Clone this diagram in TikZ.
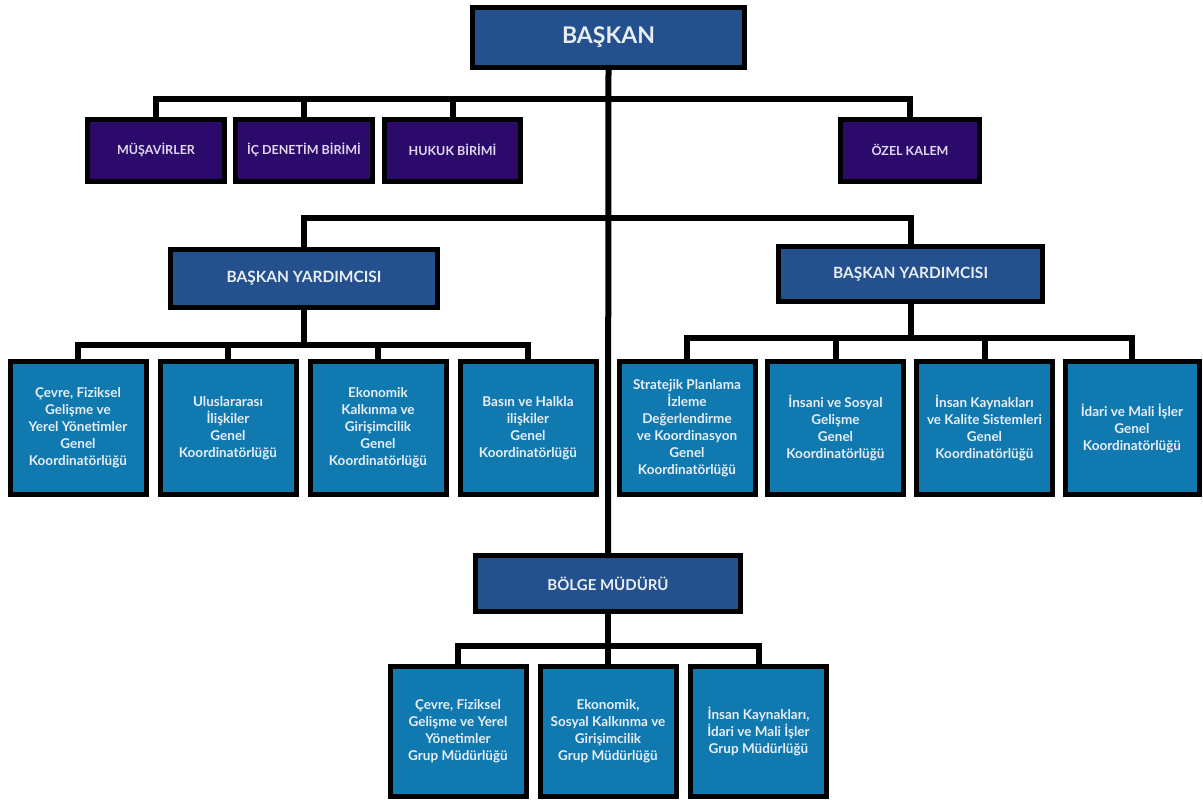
\documentclass[tikz,border=0pt]{standalone}
\usepackage{fontspec}
\setmainfont{Lato}
\definecolor{hdrblue}{RGB}{36,80,142}
\definecolor{purp}{RGB}{44,10,108}
\definecolor{cblue}{RGB}{16,121,176}
\definecolor{txtw}{RGB}{232,238,245}
\definecolor{txtp}{RGB}{225,215,240}
\begin{document}
\begin{tikzpicture}[x=1pt,y=-1pt,
  box/.style={draw=black,line width=5pt,inner sep=0pt,align=center,font=\bfseries},
  head/.style={box,fill=hdrblue,text=txtw},
  pbox/.style={box,fill=purp,text=txtp,font=\bfseries\fontsize{12.5}{15}\selectfont,minimum height=62pt},
  cbox/.style={box,fill=cblue,text=txtw,font=\bfseries\fontsize{13.5}{17}\selectfont,minimum width=136pt},
  conn/.style={draw=black,line width=6pt,line cap=rect,line join=miter}]
\useasboundingbox (0,0) rectangle (1203,800);
\fill[white] (0,0) rectangle (1203,800);
% bar levels
\coordinate (bar1) at (0,99.5);
\coordinate (bar2) at (0,218);
\coordinate (bar3) at (0,345);
\coordinate (bar4) at (0,338);
\coordinate (bar5) at (0,646);
% nodes
\node[head,minimum width=272pt,minimum height=60pt,font=\bfseries\fontsize{23}{27}\selectfont] (baskan) at (608.5,37.5) {BAŞKAN};
\node[pbox,minimum width=137pt] (mus) at (156,150) {MÜŞAVİRLER};
\node[pbox,minimum width=137pt] (ic) at (304,150) {İÇ DENETİM BİRİMİ};
\node[pbox,minimum width=136pt] (hukuk) at (452.5,150) {HUKUK BİRİMİ};
\node[pbox,minimum width=139pt] (ozel) at (910,150) {ÖZEL KALEM};
\node[head,minimum width=267pt,minimum height=58pt,font=\bfseries\fontsize{15.5}{18}\selectfont] (by1) at (304,278.5) {BAŞKAN YARDIMCISI};
\node[head,minimum width=264pt,minimum height=55pt,font=\bfseries\fontsize{15.5}{18}\selectfont] (by2) at (910.5,274) {BAŞKAN YARDIMCISI};
\node[cbox,minimum height=133pt] (c1) at (78,428) {Çevre, Fiziksel\\Gelişme ve\\Yerel Yönetimler\\Genel\\Koordinatörlüğü};
\node[cbox,minimum height=133pt] (c2) at (228,428) {Uluslararası\\İlişkiler\\Genel\\Koordinatörlüğü};
\node[cbox,minimum height=133pt] (c3) at (378,428) {Ekonomik\\Kalkınma ve\\Girişimcilik\\Genel\\Koordinatörlüğü};
\node[cbox,minimum height=133pt] (c4) at (528,428) {Basın ve Halkla\\ilişkiler\\Genel\\Koordinatörlüğü};
\node[cbox,minimum height=133pt] (c5) at (687,428) {Stratejik Planlama\\İzleme\\Değerlendirme\\ve Koordinasyon\\Genel\\Koordinatörlüğü};
\node[cbox,minimum height=133pt] (c6) at (835.5,428) {İnsani ve Sosyal\\Gelişme\\Genel\\Koordinatörlüğü};
\node[cbox,minimum height=133pt] (c7) at (984.5,428) {İnsan Kaynakları\\ve Kalite Sistemleri\\Genel\\Koordinatörlüğü};
\node[cbox,minimum height=133pt,minimum width=134pt] (c8) at (1132,428) {İdari ve Mali İşler\\Genel\\Koordinatörlüğü};
\node[head,minimum width=265pt,minimum height=56pt,font=\bfseries\fontsize{15}{18}\selectfont] (bolge) at (608,583.5) {BÖLGE MÜDÜRÜ};
\node[cbox,minimum height=130pt] (g1) at (458,731) {Çevre, Fiziksel\\Gelişme ve Yerel\\Yönetimler\\Grup Müdürlüğü};
\node[cbox,minimum height=130pt] (g2) at (608,731) {Ekonomik,\\Sosyal Kalkınma ve\\Girişimcilik\\Grup Müdürlüğü};
\node[cbox,minimum height=130pt] (g3) at (758.5,731) {İnsan Kaynakları,\\İdari ve Mali İşler\\Grup Müdürlüğü};
% connectors
\draw[conn] (baskan.south) -- (bolge.north);
\draw[conn] (mus.north) -- (mus.north |- bar1) -- (ozel.north |- bar1) -- (ozel.north);
\draw[conn] (ic.north) -- (ic.north |- bar1);
\draw[conn] (hukuk.north) -- (hukuk.north |- bar1);
\draw[conn] (by1.north) -- (by1.north |- bar2) -- (by2.north |- bar2) -- (by2.north);
\draw[conn] (by1.south) -- (by1.south |- bar3);
\draw[conn] (c1.north) -- (c1.north |- bar3) -- (c4.north |- bar3) -- (c4.north);
\draw[conn] (c2.north) -- (c2.north |- bar3);
\draw[conn] (c3.north) -- (c3.north |- bar3);
\draw[conn] (by2.south) -- (by2.south |- bar4);
\draw[conn] (c5.north) -- (c5.north |- bar4) -- (c8.north |- bar4) -- (c8.north);
\draw[conn] (c6.north) -- (c6.north |- bar4);
\draw[conn] (c7.north) -- (c7.north |- bar4);
\draw[conn] (bolge.south) -- (bolge.south |- bar5);
\draw[conn] (g1.north) -- (g1.north |- bar5) -- (g3.north |- bar5) -- (g3.north);
\draw[conn] (g2.north) -- (g2.north |- bar5);
\end{tikzpicture}
\end{document}
